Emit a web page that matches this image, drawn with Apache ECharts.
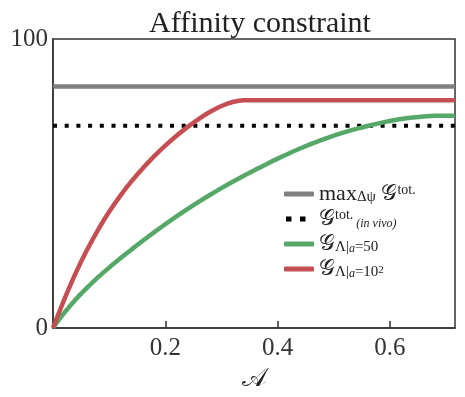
<!DOCTYPE html>
<html><head><meta charset="utf-8">
<script src="https://cdn.jsdelivr.net/npm/echarts@6/dist/echarts.min.js"></script>
<style>html,body{margin:0;padding:0;background:#fff}#c{width:465px;height:397px}</style>
</head><body><div id="c"></div>
<script>
const titleText = 'Affinity constraint';
const xMax = 0.716;
const xTicks = [0.2, 0.4, 0.6];
const yTicks = [0, 100];
const maxGValue = 83.6;
const inVivoValue = 70.0;
const greenX = [0, 0.02, 0.04, 0.06, 0.08, 0.10, 0.12, 0.14, 0.16, 0.18, 0.20, 0.22, 0.24, 0.26, 0.28, 0.30, 0.32, 0.34, 0.36, 0.38, 0.40, 0.42, 0.44, 0.46, 0.48, 0.50, 0.52, 0.54, 0.56, 0.58, 0.60, 0.62, 0.64, 0.66, 0.68, 0.70, 0.716];
const greenY = [0, 5.2, 9.8, 13.8, 17.5, 20.9, 24.1, 27.2, 30.2, 33.1, 35.9, 38.6, 41.2, 43.7, 46.1, 48.4, 50.6, 52.7, 54.7, 56.7, 58.6, 60.4, 62.1, 63.7, 65.2, 66.6, 67.8, 68.9, 69.9, 70.8, 71.6, 72.3, 72.8, 73.2, 73.4, 73.4, 73.4];
const redX = [0, 0.02, 0.04, 0.06, 0.08, 0.10, 0.12, 0.14, 0.16, 0.18, 0.20, 0.22, 0.24, 0.26, 0.28, 0.30, 0.32, 0.34, 0.36, 0.716];
const redY = [0, 9.8, 18.8, 26.8, 33.9, 40.2, 45.8, 50.8, 55.3, 59.4, 63.1, 66.5, 69.6, 72.4, 74.8, 76.8, 78.2, 78.8, 78.8, 78.8];
const seriesNames = ['maxG', 'invivo', 'a50', 'a100'];

const pairs = (xs, ys) => xs.map((x, i) => [x, ys[i]]);
const SERIF = '"Liberation Serif", "DejaVu Serif", serif';
const chart = echarts.init(document.getElementById('c'), null, {renderer: 'canvas'});
const legendFmt = {
  maxG: '{n|max}{sub|Δψ}{n| 𝒢}{sup|tot.}',
  invivo: '{n|𝒢}{sup|tot.}{subi| (in vivo)}',
  a50: '{n|𝒢}{sub|Λ|}{subi|a}{sub|=50}',
  a100: '{n|𝒢}{sub|Λ|}{subi|a}{sub|=10}{ss|2}'
};
const dotIcon = 'path://M2,0h5.5v5h-5.5z M16,0h5.5v5h-5.5z M29.9,4.9h0.1v0.1h-0.1z M0,0h0.1v0.1h-0.1z';
chart.setOption({
  animation: false,
  title: {text: titleText, left: 255, textAlign: 'center', top: 4,
    textStyle: {fontFamily: SERIF, fontWeight: 'normal', fontSize: 30, color: '#222'}},
  grid: {left: 53, right: 10, top: 39, bottom: 69, show: true, borderColor: '#333', borderWidth: 1.5, backgroundColor: 'transparent'},
  xAxis: {type: 'value', min: 0, max: xMax, interval: 0.2,
    name: '𝒜', nameLocation: 'middle', nameGap: 37,
    nameTextStyle: {fontFamily: SERIF, fontSize: 26, color: '#222'},
    axisLine: {lineStyle: {color: '#333', width: 1.5}},
    axisTick: {inside: true, length: 7, lineStyle: {color: '#333', width: 1.5}},
    axisLabel: {showMinLabel: false, showMaxLabel: false, margin: 8, fontFamily: SERIF, fontSize: 25, color: '#333',
      formatter: v => xTicks.some(t => Math.abs(t - v) < 1e-6) ? v.toFixed(1) : ''},
    splitLine: {show: false}},
  yAxis: {type: 'value', min: 0, max: 100, interval: 100,
    axisLine: {lineStyle: {color: '#333', width: 1.5}},
    axisTick: {show: false},
    axisLabel: {margin: 5, fontFamily: SERIF, fontSize: 25, color: '#333',
      formatter: v => yTicks.includes(v) ? String(v) : ''},
    splitLine: {show: false}},
  legend: {orient: 'vertical', left: 279, top: 178, itemWidth: 30, itemHeight: 5, itemGap: 3,
    data: [
      {name: 'maxG', icon: 'roundRect'},
      {name: 'invivo', icon: dotIcon},
      {name: 'a50', icon: 'roundRect'},
      {name: 'a100', icon: 'roundRect'}
    ],
    formatter: name => legendFmt[name],
    textStyle: {fontFamily: SERIF, color: '#222', fontSize: 22,
      rich: {
        n: {fontFamily: SERIF, fontSize: 22, color: '#222'},
        sup: {fontFamily: SERIF, fontSize: 14, color: '#222', verticalAlign: 'top', padding: [0,0,6,0]},
        sub: {fontFamily: SERIF, fontSize: 15, color: '#222', verticalAlign: 'bottom', padding: [6,0,0,0]},
        subi: {fontFamily: SERIF, fontSize: 12, fontStyle: 'italic', color: '#222', verticalAlign: 'bottom', padding: [6,0,0,0]},
        ss: {fontFamily: SERIF, fontSize: 11, color: '#222', verticalAlign: 'bottom', padding: [0,0,4,0]}
      }}},
  series: [
    {name: 'maxG', type: 'line', showSymbol: false, symbol: 'none', data: [[0, maxGValue], [xMax, maxGValue]],
      lineStyle: {color: '#808080', width: 4.5}, itemStyle: {color: '#808080'}},
    {name: 'invivo', type: 'line', showSymbol: false, symbol: 'none', data: [[0, inVivoValue], [xMax, inVivoValue]],
      lineStyle: {color: '#000', width: 4, type: [4, 7.7], cap: 'butt'}, itemStyle: {color: '#000'}},
    {name: 'a50', type: 'line', showSymbol: false, symbol: 'none', smooth: 0.3, data: pairs(greenX, greenY),
      lineStyle: {color: '#55a868', width: 4.5}, itemStyle: {color: '#55a868'}},
    {name: 'a100', type: 'line', showSymbol: false, symbol: 'none', smooth: 0.3, data: pairs(redX, redY),
      lineStyle: {color: '#c44e52', width: 4.5}, itemStyle: {color: '#c44e52'}}
  ]
});
</script></body></html>
